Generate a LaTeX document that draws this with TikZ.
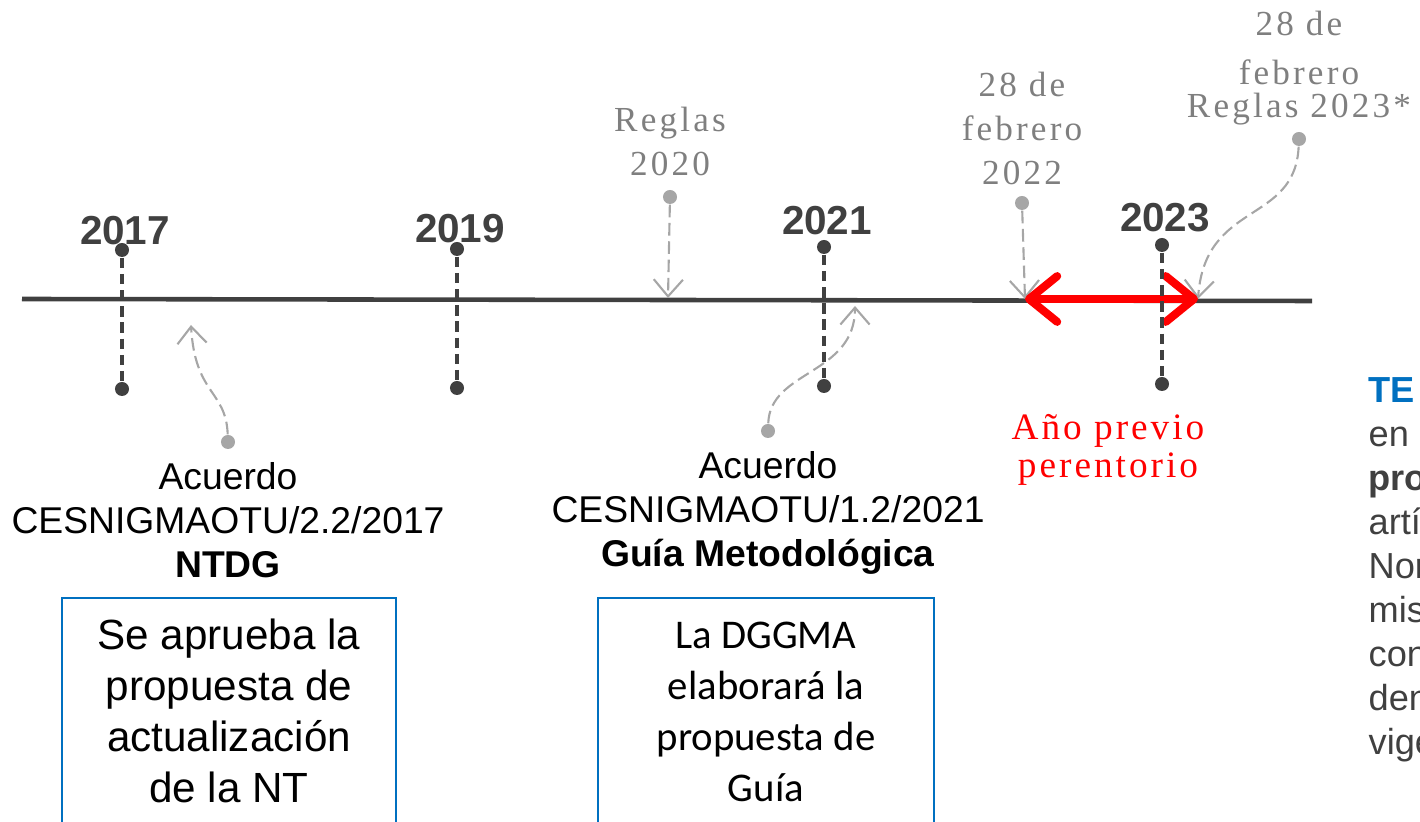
\documentclass[tikz,border=0pt]{standalone}
\usepackage{fontspec}
\setmainfont{Liberation Sans}
\newfontfamily\spacedserif[LetterSpace=9]{Liberation Serif}
\newfontfamily\redserif[LetterSpace=8]{Liberation Serif}
\newfontfamily\calibrifont{Carlito}
\usetikzlibrary{arrows.meta,positioning}
\definecolor{lineDark}{HTML}{404040}
\definecolor{pinGray}{HTML}{A6A6A6}
\definecolor{labelGray}{HTML}{7F7F7F}
\definecolor{boxBlue}{HTML}{0070C0}

\begin{document}
\begin{tikzpicture}[x=0.01cm, y=-0.01cm,
    yeardot/.style={circle, fill=lineDark, inner sep=0pt, minimum size=0.14cm},
    pindot/.style={circle, fill=pinGray, inner sep=0pt, minimum size=0.14cm},
    yearline/.style={lineDark, line width=0.9pt, dash pattern=on 3pt off 1.6pt},
    pinline/.style={pinGray, line width=0.6pt, dash pattern=on 3.6pt off 1.6pt,
        -{Straight Barb[length=4.8pt, width=8.3pt]}},
    yearlabel/.style={font=\fontsize{11.5pt}{13pt}\selectfont\bfseries, text=lineDark, inner sep=0pt},
    graylabel/.style={font=\spacedserif\fontsize{10pt}{12.5pt}\selectfont, text=labelGray, align=center, inner sep=0pt},
    acuerdo/.style={font=\fontsize{10.6pt}{12.5pt}\selectfont, align=center, inner sep=0pt},
    boxline/.style={draw=boxBlue, line width=0.6pt},
    boxtext/.style={align=center, inner sep=0pt}]

  \useasboundingbox (0,0) rectangle (1420,822);
  \clip (0,0) rectangle (1420,822);

  % time axis
  \coordinate (axisL) at (22,299);
  \coordinate (axisR) at (1312,301);
  \draw[lineDark, line width=1.3pt] (axisL) -- (axisR);

  % gray pins pointing at the axis
  \node[pindot] (pinA) at (228,442) {};
  \node[pindot] (pinB) at (670,197) {};
  \node[pindot] (pinC) at (768,431) {};
  \node[pindot] (pinD) at (1022,203) {};
  \node[pindot] (pinE) at (1299,139) {};
  \coordinate (tipA) at (191,325);
  \coordinate (tipB) at (668,298);
  \coordinate (tipC) at (855,306);
  \coordinate (tipD) at (1025,299);
  \coordinate (tipE) at (1198,299);
  \draw[pinline] (pinA) .. controls (226,390) and (195,395) .. (tipA);
  \draw[pinline] (pinB) -- (tipB);
  \draw[pinline] (pinC) .. controls (770,370) and (855,375) .. (tipC);
  \draw[pinline] (pinD) -- (tipD);
  \draw[pinline] (pinE) .. controls (1295,225) and (1205,200) .. (tipE);

  \node[graylabel, above=0.13cm of pinB] (regB) {Reglas\\2020};
  \node[graylabel, above=0.10cm of pinD] (regD) {28 de\\febrero\\2022};
  \node[graylabel, above=0.05cm of pinE] (regE) {28 de\\[0.05cm]febrero\\[-0.1cm]Reglas 2023*};

  % agreements under the axis
  \node[acuerdo, below=0.12cm of pinA] (acA) {Acuerdo\\CESNIGMAOTU/2.2/2017\\\textbf{NTDG}};
  \node[acuerdo, below=0.12cm of pinC] (acC) {Acuerdo\\CESNIGMAOTU/1.2/2021\\\textbf{Guía Metodológica}};

  \draw[boxline] (62,598) rectangle (396,840);
  \node[boxtext, anchor=north, font=\fontsize{12pt}{14.5pt}\selectfont] (boxA) at (229,618)
      {Se aprueba la\\propuesta de\\actualización\\de la NT};
  \draw[boxline] (598,598) rectangle (934,840);
  \node[boxtext, anchor=north, font=\calibrifont\fontsize{11.6pt}{14.5pt}\selectfont] (boxC) at (766,621)
      {La DGGMA\\elaborará la\\propuesta de\\Guía};

  % peremptory year
  \draw[red, line width=2.3pt, {Straight Barb[length=8pt, width=13pt, round]}-{Straight Barb[length=8pt, width=13pt, round]}] (tipD) -- (tipE);
  \node[font=\redserif\fontsize{10.6pt}{10.8pt}\selectfont, text=red, align=center, inner sep=0pt, anchor=north] (prev) at (1108,414)
      {Año previo\\perentorio};

  % years
  \foreach \n/\x/\yt/\yb/\yl/\lab in {a/122/250/389/245/2017, b/457/249/388/243/2019, c/824/247/386/235/2021, d/1162/245/384/232/2023} {
      \node[yearlabel, anchor=base] (lab\n) at (\x+3,\yl) {\lab};
      \node[yeardot] (top\n) at (\x,\yt) {};
      \node[yeardot] (bot\n) at (\x,\yb) {};
      \draw[yearline] (top\n) -- (bot\n);
  }

  % note cut by the right edge
  \node[anchor=north west, align=left, inner sep=0pt, text=lineDark, font=\fontsize{10.3pt}{12.5pt}\selectfont] (note) at (1368,377)
      {\textcolor{boxBlue}{\textbf{TE}}\\en\\\textbf{pro}\\artí\\Nor\\mis\\con\\den\\vige};
\end{tikzpicture}
\end{document}
